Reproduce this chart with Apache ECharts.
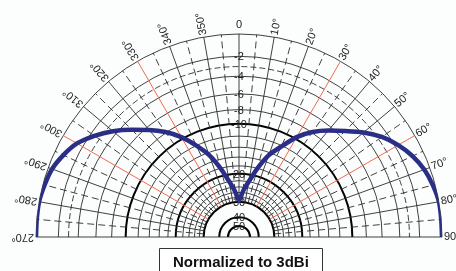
<!DOCTYPE html>
<html>
<head>
    <meta charset="utf-8">
    <title>Radiation pattern</title>
    <script src="https://cdn.jsdelivr.net/npm/echarts@6/dist/echarts.min.js"></script>
    <style>
        html, body {
            margin: 0;
            padding: 0;
            background: #fcfdfd;
        }
        #chart {
            width: 456px;
            height: 271px;
        }
    </style>
</head>
<body>
<div id="chart"></div>
<script>
    // pattern: angle in degrees (0 = top, clockwise, -90 = 270°) and level in dB
    var angles = [-90, -85, -80, -75, -70, -65, -60, -55, -50, -45, -40, -35, -30, -25, -20, -15, -10, -5,
                  0, 5, 10, 15, 20, 25, 30, 35, 40, 45, 50, 55, 60, 65, 70, 75, 80, 85, 90];
    var levels = [0, 0, 0, -0.15, -0.35, -0.8, -1.4, -2.4, -3.6, -5.0, -6.4, -7.9, -9.7, -12.0, -14.5, -18.0, -22.0, -25.5,
                  -29.5, -25.5, -22.0, -18.0, -14.5, -12.2, -9.7, -7.9, -6.5, -5.2, -3.8, -2.6, -1.7, -1.0, -0.5, -0.2, 0, 0, 0];

    // grid
    var ringLevels = [0, -2, -3, -4, -6, -8, -10, -12, -14, -16, -18, -20, -22, -24, -26, -28, -30, -40, -50];
    var thickRings = [-10, -20, -30, -40, -50];
    var dashedRings = [-3];
    var spokeAngles = [-90, -85, -80, -75, -70, -65, -60, -55, -50, -45, -40, -35, -30, -25, -20, -15, -10, -5,
                       0, 5, 10, 15, 20, 25, 30, 35, 40, 45, 50, 55, 60, 65, 70, 75, 80, 85, 90];
    var redSpokes = [-60, -30, 30, 60];
    var angleTicks = [-90, -80, -70, -60, -50, -40, -30, -20, -10, 0, 10, 20, 30, 40, 50, 60, 70, 80, 90];
    var angleLabels = ['270°', '280°', '290°', '300°', '310°', '320°', '330°', '340°', '350°',
                       '0', '10°', '20°', '30°', '40°', '50°', '60°', '70°', '80°', '90°'];
    var radialTicks = [-2, -4, -6, -8, -10, -20, -30, -40, -50];
    var radialLabels = ['-2', '-4', '-6', '-8', '-10', '20', '30', '40', '50'];

    // ARRL log scale: every 2 dB down the radius shrinks by 0.89
    function toR(db) {
        return Math.pow(0.89, -db / 2);
    }

    var gridColor = '#2b2b2b';
    var font = 'Liberation Sans, Arial, sans-serif';

    var myChart = echarts.init(document.getElementById('chart'));

    var option = {
        backgroundColor: '#fcfdfd',
        animation: false,
        title: {
            text: 'Normalized to 3dBi',
            left: 159,
            top: 248,
            padding: [7, 14, 14, 14],
            borderWidth: 1,
            borderColor: '#333',
            backgroundColor: '#fff',
            textStyle: {
                fontFamily: font,
                fontSize: 15,
                fontWeight: 'bold',
                color: '#111'
            }
        },
        polar: {
            center: [239, 237],
            radius: 203
        },
        angleAxis: {
            type: 'value',
            min: -180,
            max: 180,
            startAngle: 270,
            clockwise: true,
            show: false
        },
        radiusAxis: {
            type: 'value',
            min: 0,
            max: 1,
            show: false
        },
        series: [
            {
                // rings
                type: 'custom',
                coordinateSystem: 'polar',
                z: 1,
                silent: true,
                data: ringLevels.map(function (db) { return [toR(db), 0, db]; }),
                renderItem: function (params, api) {
                    var c = api.coord([0, 0]);
                    var p = api.coord([api.value(0), 0]);
                    var db = api.value(2);
                    var thick = thickRings.indexOf(db) >= 0;
                    var dashed = dashedRings.indexOf(db) >= 0;
                    return {
                        type: 'arc',
                        shape: {
                            cx: c[0], cy: c[1], r: Math.abs(c[1] - p[1]),
                            startAngle: Math.PI, endAngle: 2 * Math.PI, clockwise: true
                        },
                        style: {
                            fill: 'none',
                            stroke: thick ? '#000' : gridColor,
                            lineWidth: thick ? 2 : 0.9,
                            lineDash: dashed ? [6, 3] : null
                        }
                    };
                }
            },
            {
                // spokes
                type: 'custom',
                coordinateSystem: 'polar',
                z: 2,
                silent: true,
                data: spokeAngles.map(function (a) { return [1, a]; }),
                renderItem: function (params, api) {
                    var a = api.value(1);
                    var inner = (a === 90 || a === -90) ? 0 : toR(-30);
                    var p0 = api.coord([inner, a]);
                    var p1 = api.coord([1, a]);
                    var red = redSpokes.indexOf(a) >= 0;
                    var dashed = a % 10 !== 0;
                    return {
                        type: 'line',
                        z2: red ? 5 : 1,
                        shape: { x1: p0[0], y1: p0[1], x2: p1[0], y2: p1[1] },
                        style: {
                            stroke: red ? '#f26b4f' : gridColor,
                            lineWidth: red ? 1 : 0.9,
                            lineDash: dashed ? [7, 4] : null
                        }
                    };
                }
            },
            {
                // angle labels
                type: 'custom',
                coordinateSystem: 'polar',
                z: 3,
                silent: true,
                data: angleTicks.map(function (a, i) { return [1, a, i]; }),
                renderItem: function (params, api) {
                    var a = api.value(1);
                    var txt = angleLabels[api.value(2)];
                    if (a === 0) {
                        var q = api.coord([212 / 203, a]);
                        return {
                            type: 'text', x: q[0], y: q[1],
                            style: { text: txt, fill: '#222', fontSize: 11, fontFamily: font, align: 'center', verticalAlign: 'middle' }
                        };
                    }
                    var p = api.coord([205 / 203, a]);
                    return {
                        type: 'text', x: p[0], y: p[1],
                        rotation: (90 - a) * Math.PI / 180,
                        style: { text: txt, fill: '#222', fontSize: 11, fontFamily: font, align: 'left', verticalAlign: 'middle' }
                    };
                }
            },
            {
                // radial labels along the 0° line
                type: 'custom',
                coordinateSystem: 'polar',
                z: 3,
                silent: true,
                data: radialTicks.map(function (db, i) { return [toR(db), 0, i]; }),
                renderItem: function (params, api) {
                    var p = api.coord([api.value(0), 0]);
                    return {
                        type: 'text', x: p[0], y: p[1] + 1,
                        style: { text: radialLabels[api.value(2)], fill: '#222', fontSize: 11, fontFamily: font, align: 'center', verticalAlign: 'middle' }
                    };
                }
            },
            {
                // measured pattern
                type: 'line',
                coordinateSystem: 'polar',
                z: 5,
                silent: true,
                showSymbol: false,
                smooth: 0.2,
                lineStyle: { color: '#2a2e86', width: 4.5 },
                data: angles.map(function (a, i) { return [toR(levels[i]), a]; })
            }
        ]
    };

    myChart.setOption(option);
</script>
</body>
</html>
